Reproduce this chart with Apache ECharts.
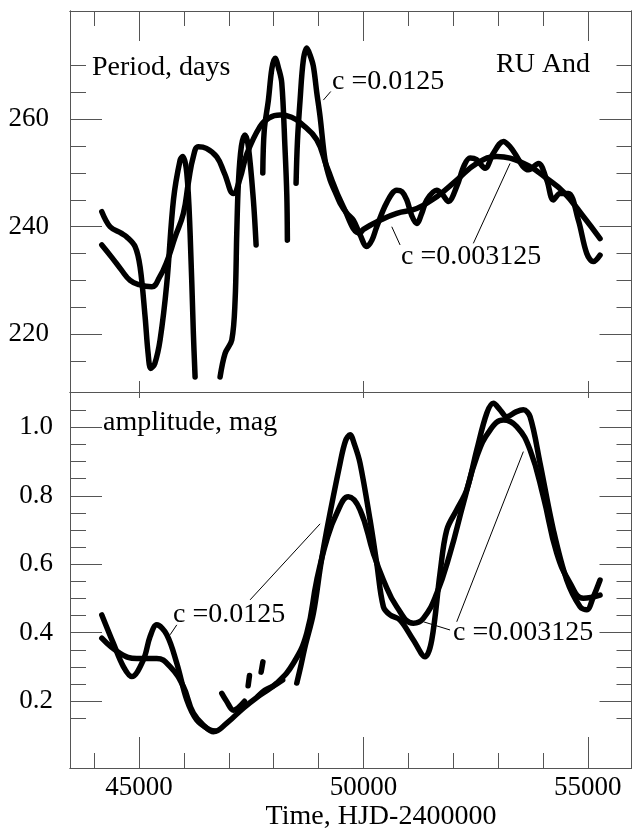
<!DOCTYPE html>
<html>
<head>
<meta charset="utf-8">
<script src="https://cdn.jsdelivr.net/npm/echarts@6/dist/echarts.min.js"></script>
<style>html,body{margin:0;padding:0;background:#fff}#c{width:633px;height:833px}</style>
</head>
<body>
<div id="c"></div>
<script>
// ---------- data ----------
const G = '-'; // gap marker
// Period, c = 0.0125 (wiggly)
const periodT_c0125 = [44169,44354,44600,44726,44911,45022,45134,45200,45260,45350,45468,45617,45766,45914,45974,46063,46137,46210,46248,46250,
  46800,46805,46917,47066,47140,47177,47213,47280,47362,47436,47547,47608,47650,
  47750,47757,47790,47882,47960,48031,48110,48180,48250,48292,48305,48400,
  48495,48499,48530,48588,48660,48737,48810,48884,48960,49034,49145,49257,49370,49480,49630,49776,49925,50074,50190,50297,50520,50743,50860,50966,51080,51189,51300,51412,51635,51760,51894,52080,52250,52377,52520,52711,52896,53119,53260,53417,53550,53678,53899,54086,54233,54383,54568,54791,54978,55125,55274];
const periodV_c0125 = [242.8,240.0,238.8,238.1,236.3,232.5,223.2,216.5,213.6,214.5,218.9,229.4,245.0,252.4,253.1,250.0,238.8,220.1,212.0,G,
  G,212.0,216.4,218.9,226.3,238.8,248.1,255.0,257.1,254.9,245.0,236.6,G,
  G,250.0,258.0,263.6,269.5,271.4,269.5,266.8,255.0,246.0,237.5,G,
  G,248.1,256.0,263.6,271.0,273.3,272.0,269.9,265.0,260.5,252.4,248.7,246.5,244.4,242.5,241.2,238.5,236.3,237.5,240.0,244.5,246.8,246.5,245.0,242.0,240.6,242.5,245.0,246.8,246.0,244.7,247.5,251.5,252.8,252.5,250.9,253.7,255.9,255.0,253.1,251.3,250.6,251.8,248.7,245.0,246.2,246.2,241.2,235.0,233.5,234.7];
// Period, c = 0.003125 (smooth)
const periodT_c003125 = [44169,44400,44600,44800,45000,45283,45450,45620,45800,45987,46100,46210,46322,46500,46731,46900,47102,47250,47400,47697,47900,48142,48400,48600,48960,49183,49553,49925,50000,50371,50743,51189,51635,52080,52526,52972,53269,53714,54086,54456,54902,55274];
const periodV_c003125 = [236.6,234.2,232.0,230.0,229.2,228.8,230.5,233.5,238.0,242.5,248.3,253.1,254.9,254.6,253.0,250.0,246.2,249.0,253.5,258.7,260.3,260.8,260.4,259.3,256.2,251.2,243.7,238.8,239.5,241.2,242.5,243.4,245.6,248.7,251.8,253.1,252.8,251.2,249.0,246.5,241.9,237.8];
// Amplitude, c = 0.0125 (wiggly)
const ampT_c0125 = [44169,44427,44650,44837,45096,45245,45394,45617,45840,46063,46286,46582,46700,46750,
  46800,46843,46950,47102,47200,47350,47380,
  47410,47430,47460,47480,
  47700,47720,47760,47780,
  47560,47650,47800,48000,48200,48300,
  48450,48515,48600,48700,48885,49050,49183,49480,49600,49703,49800,49925,50148,50297,50445,50594,50817,51113,51374,51523,51708,51857,52080,52303,52526,52749,52896,53050,53193,53400,53565,53714,53937,54234,54532,54829,54978,55125,55274];
const ampV_c0125 = [0.452,0.369,0.301,0.272,0.321,0.389,0.423,0.394,0.311,0.204,0.145,0.116,0.113,G,
  G,0.223,0.200,0.174,0.180,0.200,G,
  G,0.245,0.275,G,
  G,0.285,0.315,G,
  G,0.215,0.232,0.245,0.262,G,
  G,0.253,0.300,0.360,0.457,0.600,0.700,0.895,0.960,0.978,0.950,0.895,0.729,0.603,0.476,0.452,0.437,0.379,0.330,0.379,0.574,0.700,0.759,0.817,0.934,1.041,1.070,1.050,1.031,1.045,1.051,1.031,0.895,0.700,0.554,0.476,0.467,0.505,0.554];
// Amplitude, c = 0.003125 (smooth)
const ampT_c003125 = [44169,44577,44949,45394,45691,45987,46210,46509,46656,46954,47324,47697,48069,48439,48738,48960,49183,49406,49665,49925,50222,50445,50743,51113,51336,51635,51931,52228,52526,52823,53119,53417,53714,54011,54309,54606,54902,55274];
const ampV_c003125 = [0.384,0.340,0.325,0.325,0.301,0.243,0.165,0.121,0.111,0.136,0.180,0.218,0.253,0.311,0.399,0.554,0.671,0.749,0.797,0.759,0.632,0.554,0.476,0.428,0.442,0.515,0.632,0.778,0.914,0.992,1.021,1.002,0.934,0.797,0.632,0.545,0.501,0.510];

// ---------- ticks ----------
const xMajor = [45000, 50000, 55000];
const xMinor = [44000, 46000, 47000, 48000, 49000, 51000, 52000, 53000, 54000];
const periodMajor = [220, 240, 260];
const periodMinor = [215, 225, 230, 235, 245, 250, 255, 265, 270];
const ampMajor = [0.2, 0.4, 0.6, 0.8, 1.0];
const ampMinor = [0.15, 0.25, 0.3, 0.35, 0.45, 0.5, 0.55, 0.65, 0.7, 0.75, 0.85, 0.9, 0.95, 1.05];

// leader lines (data coordinates)
const periodLeaders = [[[49107,263.6],[49272,265.2]], [[50817,236.6],[50632,240.0]], [[52450,236.9],[53268,251.8]]];
const ampLeaders = [[[45691,0.394],[45840,0.423]], [[47474,0.496],[49034,0.718]], [[51931,0.408],[51336,0.432]], [[52080,0.432],[53565,0.929]]];

// ---------- build ----------
const FONT = '"Liberation Serif", "DejaVu Serif", serif';
const AX = '#555';
const xMin = 43460, xMax = 55975;
const pMin = 209.2, pMax = 280.2;
const aMin = 0.005, aMax = 1.103;

function zip(t, v) { return t.map((x, i) => [x, v[i]]); }

function xAx(grid, pos, ticks, len, opts) {
  return Object.assign({
    type: 'value', gridIndex: grid, position: pos, min: xMin, max: xMax,
    axisLine: { show: true, onZero: false, lineStyle: { color: AX, width: 1 } },
    axisTick: { show: true, inside: true, length: len, customValues: ticks, lineStyle: { color: AX, width: 1 } },
    axisLabel: { show: false },
    splitLine: { show: false }
  }, opts || {});
}
function yAx(grid, pos, mn, mx, ticks, len, opts) {
  return Object.assign({
    type: 'value', gridIndex: grid, position: pos, min: mn, max: mx,
    axisLine: { show: true, onZero: false, lineStyle: { color: AX, width: 1 } },
    axisTick: { show: true, inside: true, length: len, customValues: ticks, lineStyle: { color: AX, width: 1 } },
    axisLabel: { show: false },
    splitLine: { show: false }
  }, opts || {});
}

function leaderMark(pairs) {
  return {
    silent: true, symbol: ['none', 'none'], animation: false,
    label: { show: false },
    lineStyle: { color: '#000', width: 1, type: 'solid' },
    emphasis: { disabled: true },
    data: pairs.map(p => [{ coord: p[0] }, { coord: p[1] }])
  };
}

const lineStyle = { color: '#000', width: 5.5, cap: 'round', join: 'round' };

const chart = echarts.init(document.getElementById('c'), null, { renderer: 'canvas' });
chart.setOption({
  animation: false,
  backgroundColor: '#fff',
  grid: [
    { left: 70, top: 11, width: 561.5, height: 381, containLabel: false, outerBoundsMode: 'none' },
    { left: 70, top: 392, width: 561.5, height: 376, containLabel: false, outerBoundsMode: 'none' }
  ],
  xAxis: [
    xAx(0, 'bottom', xMajor, 11),
    xAx(0, 'top', xMajor, 30),
    xAx(0, 'top', xMinor, 15),
    xAx(1, 'bottom', xMajor, 31, {
      axisLabel: { show: true, customValues: xMajor, margin: 6, color: '#000', fontFamily: FONT, fontSize: 27,
        formatter: v => String(Math.round(v)) }
    }),
    xAx(1, 'bottom', xMinor, 15),
    xAx(1, 'top', xMajor, 6)
  ],
  yAxis: [
    yAx(0, 'left', pMin, pMax, periodMajor, 32, {
      axisLabel: { show: true, customValues: periodMajor, margin: 21, color: '#000', fontFamily: FONT, fontSize: 27,
        formatter: v => String(Math.round(v)) }
    }),
    yAx(0, 'left', pMin, pMax, periodMinor, 16),
    yAx(0, 'right', pMin, pMax, periodMajor, 32),
    yAx(0, 'right', pMin, pMax, periodMinor, 15),
    yAx(1, 'left', aMin, aMax, ampMajor, 32, {
      axisLabel: { show: true, customValues: ampMajor, margin: 17, color: '#000', fontFamily: FONT, fontSize: 27,
        formatter: v => v.toFixed(1) }
    }),
    yAx(1, 'left', aMin, aMax, ampMinor, 16),
    yAx(1, 'right', aMin, aMax, ampMajor, 32),
    yAx(1, 'right', aMin, aMax, ampMinor, 15)
  ],
  series: [
    { type: 'line', xAxisIndex: 0, yAxisIndex: 0, data: zip(periodT_c0125, periodV_c0125), showSymbol: false, smooth: 0.35,
      connectNulls: false, lineStyle: lineStyle, silent: true, clip: true, markLine: leaderMark(periodLeaders) },
    { type: 'line', xAxisIndex: 0, yAxisIndex: 0, data: zip(periodT_c003125, periodV_c003125), showSymbol: false, smooth: 0.45,
      lineStyle: lineStyle, silent: true, clip: true },
    { type: 'line', xAxisIndex: 3, yAxisIndex: 4, data: zip(ampT_c0125, ampV_c0125), showSymbol: false, smooth: 0.35,
      connectNulls: false, lineStyle: lineStyle, silent: true, clip: true, markLine: leaderMark(ampLeaders) },
    { type: 'line', xAxisIndex: 3, yAxisIndex: 4, data: zip(ampT_c003125, ampV_c003125), showSymbol: false, smooth: 0.45,
      lineStyle: lineStyle, silent: true, clip: true }
  ],
  graphic: [
    { type: 'text', x: 92, y: 68, style: { text: 'Period, days', font: '28px ' + FONT, fill: '#000', verticalAlign: 'middle' } },
    { type: 'text', x: 496, y: 65, style: { text: 'RU And', font: '28px ' + FONT, fill: '#000', verticalAlign: 'middle' } },
    { type: 'text', x: 332, y: 82, style: { text: 'c =0.0125', font: '28px ' + FONT, fill: '#000', verticalAlign: 'middle' } },
    { type: 'text', x: 401, y: 257, style: { text: 'c =0.003125', font: '28px ' + FONT, fill: '#000', verticalAlign: 'middle' } },
    { type: 'text', x: 103, y: 423, style: { text: 'amplitude, mag', font: '28px ' + FONT, fill: '#000', verticalAlign: 'middle' } },
    { type: 'text', x: 173, y: 615, style: { text: 'c =0.0125', font: '28px ' + FONT, fill: '#000', verticalAlign: 'middle' } },
    { type: 'text', x: 453, y: 633, style: { text: 'c =0.003125', font: '28px ' + FONT, fill: '#000', verticalAlign: 'middle' } },
    { type: 'text', x: 381, y: 817, style: { text: 'Time, HJD-2400000', font: '28px ' + FONT, fill: '#000', align: 'center', verticalAlign: 'middle' } }
  ]
});
</script>
</body>
</html>
